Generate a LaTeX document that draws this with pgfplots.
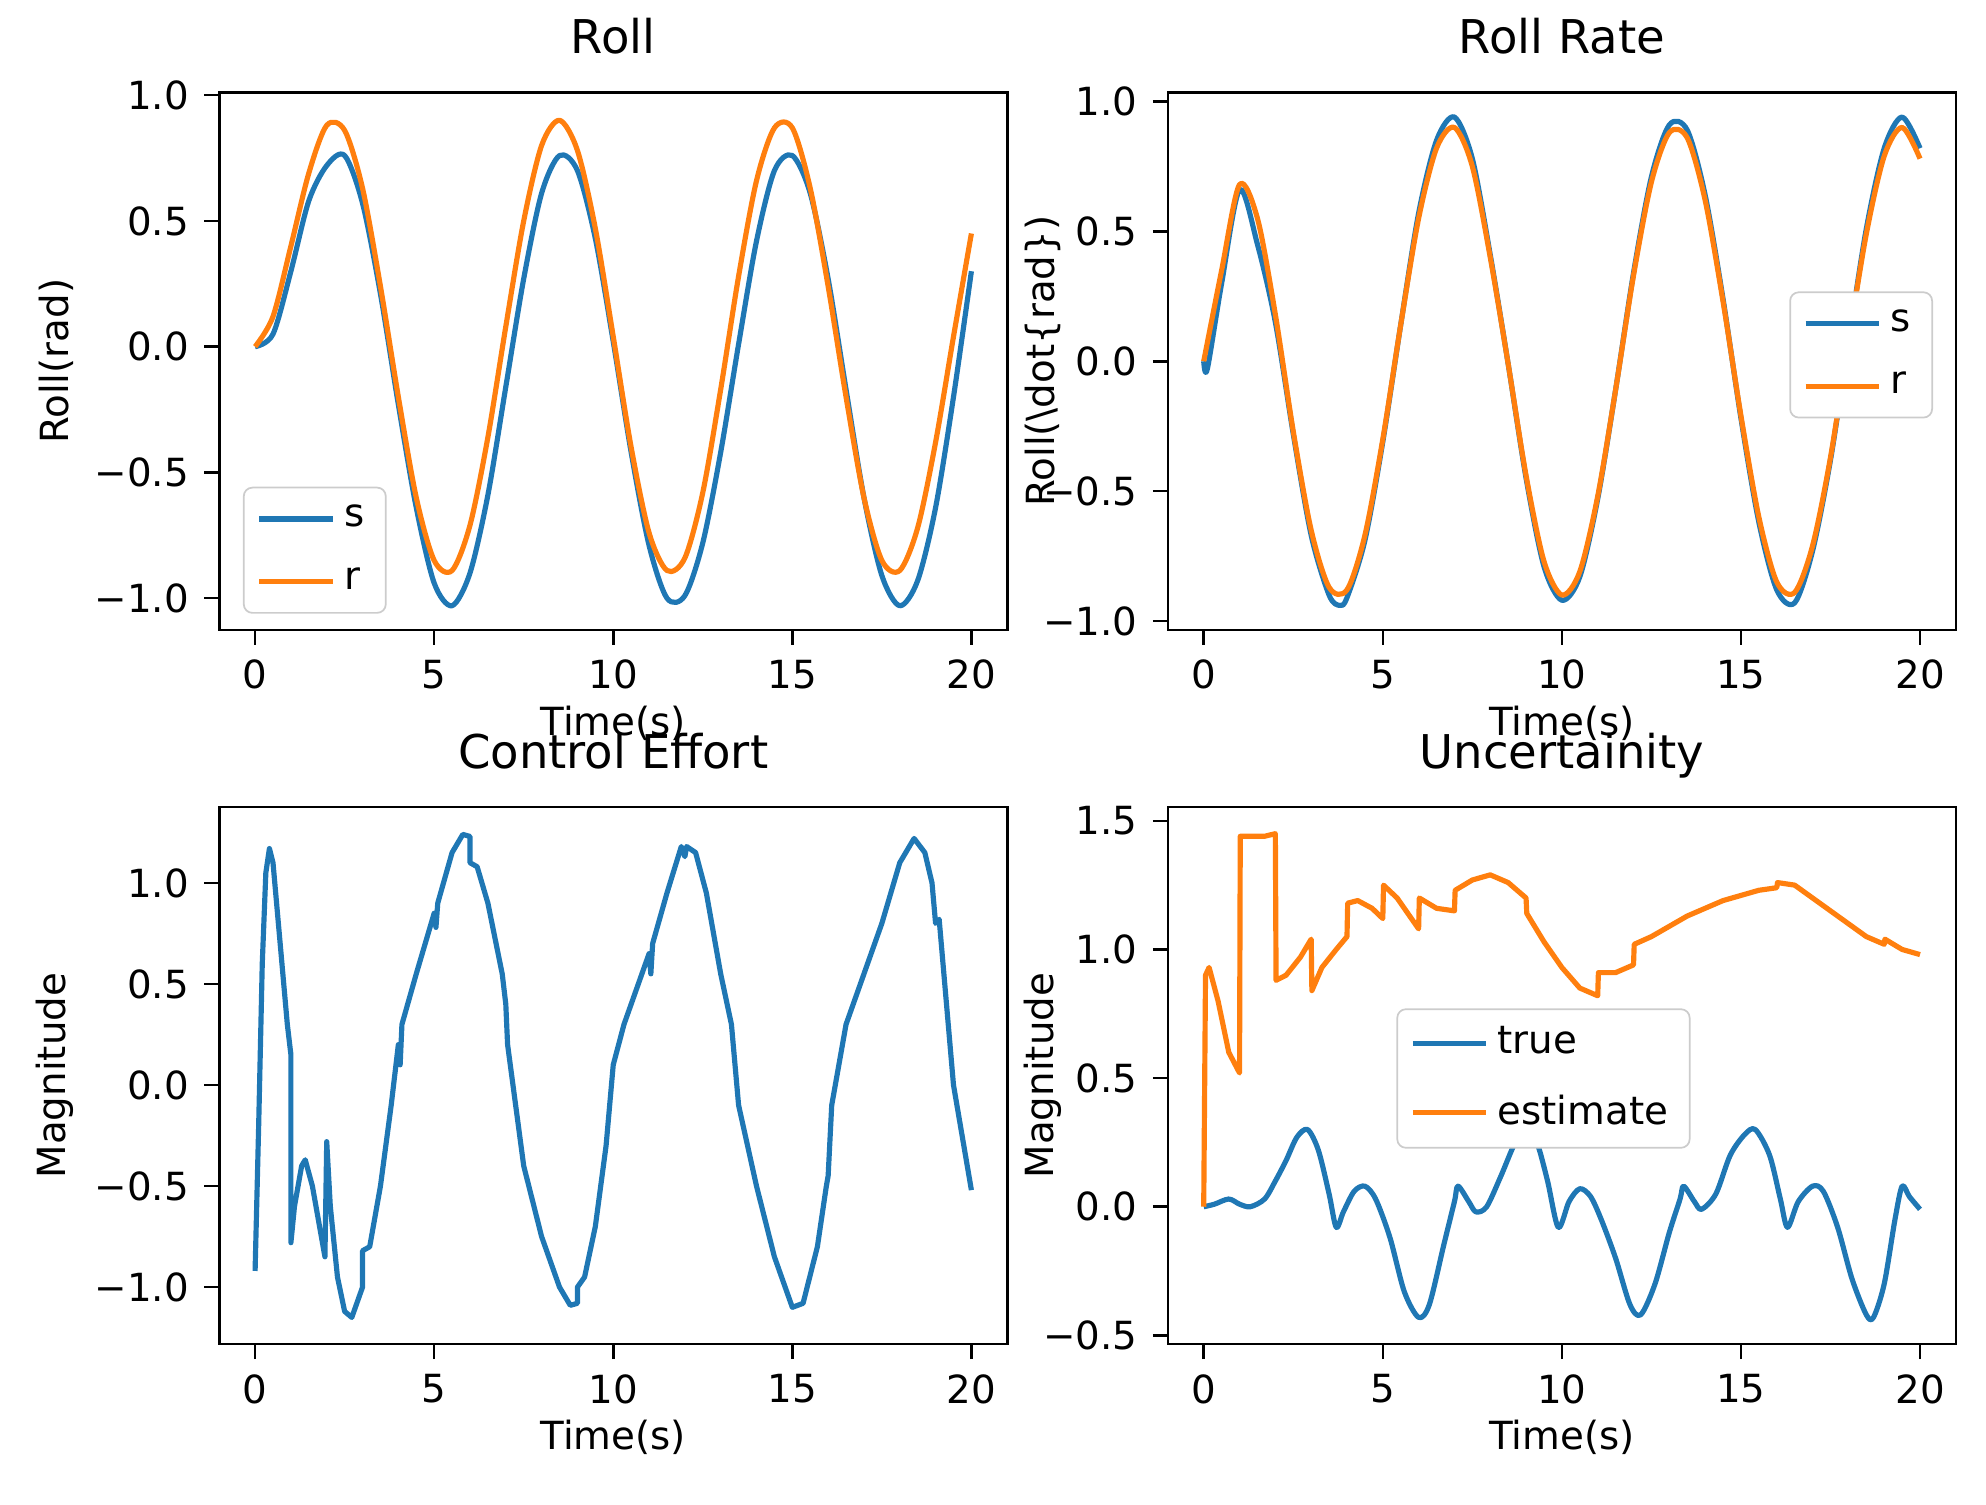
\documentclass[border=0pt]{standalone}
\usepackage{pgfplots}
\pgfplotsset{compat=1.18}
\usepackage{fontspec}
\setmainfont{DejaVu Sans}
\definecolor{c0}{HTML}{1F77B4}
\definecolor{c1}{HTML}{FF7F0E}
\pgfplotsset{
  myax/.style={scale only axis, width=182.9pt, height=124.7pt, anchor=north west,
    xmin=-1, xmax=21, xtick={0,5,10,15,20}, tick align=outside, major tick length=3.5pt,
    xtick pos=bottom, ytick pos=left, axis line style={line width=0.6pt}, tick style={line width=0.6pt, black},
    font=\fontsize{9}{11}\selectfont, title style={font=\fontsize{10.8}{13}\selectfont, text height=0.75em, text depth=0.25em, yshift=-3pt},
    xlabel={Time(s)}, xlabel style={yshift=3pt}, ylabel style={yshift=-2pt},
    legend cell align=left, legend style={draw=black!20, rounded corners=2pt, font=\fontsize{9}{11}\selectfont, row sep=4pt},
    every axis plot/.append style={line width=1.2pt, line join=round},
    /pgf/number format/assume math mode=true}}
\begin{document}
\begin{tikzpicture}
\path (0,0) rectangle (461pt,-349.3pt);
% Roll
\begin{axis}[myax, at={(50.9pt,-21.5pt)}, title={Roll}, ymin=-1.126, ymax=1.01,
  ytick={-1,-0.5,0,0.5,1}, yticklabels={−1.0,−0.5,0.0,0.5,1.0}, ylabel={Roll(rad)},
  legend style={at={(0.03,0.03)}, anchor=south west}]
\addplot[c0, smooth] coordinates {(0,0)(0.5,0.05)(1,0.3)(1.5,0.58)(2,0.72)(2.5,0.76)(3,0.57)(3.5,0.21)(4,-0.23)(4.5,-0.64)(5,-0.94)(5.5,-1.03)(6,-0.9)(6.5,-0.59)(7,-0.16)(7.5,0.27)(8,0.61)(8.5,0.76)(9,0.7)(9.5,0.43)(10,0.02)(10.5,-0.42)(11,-0.79)(11.5,-1.0)(12,-0.99)(12.5,-0.78)(13,-0.42)(13.5,0.01)(14,0.42)(14.5,0.7)(15,0.76)(15.5,0.61)(16,0.27)(16.5,-0.17)(17,-0.6)(17.5,-0.91)(18,-1.03)(18.5,-0.93)(19,-0.64)(19.5,-0.2)(20,0.3)};
\addplot[c1, smooth] coordinates {(0,0)(0.5,0.12)(1,0.4)(1.5,0.69)(2,0.88)(2.5,0.86)(3,0.63)(3.5,0.24)(4,-0.2)(4.5,-0.6)(5,-0.85)(5.5,-0.89)(6,-0.71)(6.5,-0.36)(7,0.08)(7.5,0.5)(8,0.8)(8.5,0.9)(9,0.78)(9.5,0.47)(10,0.04)(10.5,-0.4)(11,-0.74)(11.5,-0.89)(12,-0.84)(12.5,-0.58)(13,-0.17)(13.5,0.28)(14,0.66)(14.5,0.87)(15,0.87)(15.5,0.63)(16,0.24)(16.5,-0.2)(17,-0.6)(17.5,-0.85)(18,-0.89)(18.5,-0.72)(19,-0.38)(19.5,0.04)(20,0.45)};
\legend{s,r}
\end{axis}
% Roll rate
\begin{axis}[myax, at={(271.1pt,-21.5pt)}, title={Roll Rate}, ymin=-1.034, ymax=1.034,
  ytick={-1,-0.5,0,0.5,1}, yticklabels={−1.0,−0.5,0.0,0.5,1.0}, ylabel={Roll(\textbackslash dot\{rad\})},
  ylabel style={yshift=-9pt},
  legend style={at={(0.971,0.63)}, anchor=north east}]
\addplot[c0, smooth] coordinates {(0,0)(0.1,-0.03)(0.5,0.3)(1,0.66)(1.5,0.45)(2,0.15)(2.5,-0.28)(3,-0.67)(3.5,-0.9)(3.8,-0.94)(4,-0.91)(4.5,-0.69)(5,-0.31)(5.5,0.14)(6,0.57)(6.5,0.85)(7,0.94)(7.5,0.78)(8,0.41)(8.5,-0.01)(9,-0.45)(9.5,-0.79)(10,-0.92)(10.5,-0.83)(11,-0.53)(11.5,-0.11)(12,0.34)(12.5,0.71)(13,0.91)(13.5,0.89)(14,0.64)(14.5,0.24)(15,-0.22)(15.5,-0.62)(16,-0.88)(16.5,-0.93)(17,-0.73)(17.5,-0.38)(18,0.07)(18.5,0.51)(19,0.82)(19.5,0.94)(20,0.82)};
\addplot[c1, smooth] coordinates {(0,0)(0.5,0.35)(1,0.68)(1.5,0.55)(2,0.18)(2.5,-0.27)(3,-0.65)(3.5,-0.87)(4,-0.88)(4.5,-0.67)(5,-0.3)(5.5,0.14)(6,0.55)(6.5,0.82)(7,0.9)(7.5,0.75)(8,0.4)(8.5,-0.01)(9,-0.44)(9.5,-0.77)(10,-0.9)(10.5,-0.81)(11,-0.52)(11.5,-0.11)(12,0.33)(12.5,0.69)(13,0.88)(13.5,0.86)(14,0.62)(14.5,0.23)(15,-0.21)(15.5,-0.6)(16,-0.85)(16.5,-0.89)(17,-0.71)(17.5,-0.37)(18,0.07)(18.5,0.49)(19,0.79)(19.5,0.9)(20,0.78)};
\legend{s,r}
\end{axis}
% Control effort
\begin{axis}[myax, at={(50.9pt,-187.3pt)}, title={Control Effort}, ymin=-1.282, ymax=1.376,
  ytick={-1,-0.5,0,0.5,1}, yticklabels={−1.0,−0.5,0.0,0.5,1.0}, ylabel={Magnitude}]
\addplot[c0] coordinates {(0,-0.92)(0.1,-0.2)(0.2,0.6)(0.3,1.05)(0.4,1.17)(0.5,1.1)(0.7,0.7)(0.9,0.3)(1.0,0.15)(1.0,-0.78)(1.1,-0.6)(1.3,-0.4)(1.4,-0.37)(1.6,-0.5)(1.8,-0.7)(1.95,-0.85)(2.0,-0.28)(2.1,-0.6)(2.3,-0.95)(2.5,-1.12)(2.7,-1.15)(2.9,-1.05)(3.0,-1.0)(3.0,-0.82)(3.2,-0.8)(3.5,-0.5)(3.8,-0.1)(4.0,0.2)(4.05,0.1)(4.1,0.3)(4.5,0.55)(5.0,0.85)(5.05,0.78)(5.1,0.9)(5.5,1.15)(5.8,1.24)(6.0,1.23)(6.0,1.1)(6.2,1.08)(6.5,0.9)(6.9,0.55)(7.0,0.4)(7.05,0.2)(7.2,0.0)(7.5,-0.4)(8.0,-0.75)(8.5,-1.0)(8.8,-1.09)(9.0,-1.08)(9.0,-1.0)(9.2,-0.95)(9.5,-0.7)(9.8,-0.3)(10.0,0.1)(10.3,0.3)(10.8,0.55)(11.0,0.65)(11.05,0.55)(11.1,0.7)(11.5,0.95)(11.9,1.18)(12.0,1.13)(12.05,1.18)(12.3,1.15)(12.6,0.95)(13.0,0.55)(13.3,0.3)(13.5,-0.1)(14.0,-0.5)(14.5,-0.85)(15.0,-1.1)(15.3,-1.08)(15.7,-0.8)(15.95,-0.5)(16.0,-0.45)(16.1,-0.1)(16.5,0.3)(17.0,0.55)(17.5,0.8)(18.0,1.1)(18.4,1.22)(18.7,1.15)(18.9,1.0)(19.0,0.8)(19.1,0.82)(19.5,0.0)(20,-0.52)};
\end{axis}
% Uncertainty
\begin{axis}[myax, at={(271.1pt,-187.3pt)}, title={Uncertainity}, ymin=-0.534, ymax=1.554,
  ytick={-0.5,0,0.5,1,1.5}, yticklabels={−0.5,0.0,0.5,1.0,1.5}, ylabel={Magnitude},
  ylabel style={yshift=-9pt},
  legend style={at={(0.29,0.625)}, anchor=north west}]
\addplot[c0, smooth, tension=0.5] coordinates {(0,0)(0.3,0.01)(0.7,0.03)(1.0,0.01)(1.3,0.0)(1.7,0.03)(2.0,0.1)(2.3,0.18)(2.6,0.27)(2.9,0.3)(3.2,0.22)(3.5,0.05)(3.7,-0.08)(3.9,-0.02)(4.2,0.06)(4.5,0.08)(4.8,0.03)(5.2,-0.12)(5.6,-0.33)(6.0,-0.43)(6.3,-0.38)(6.7,-0.15)(7.0,0.02)(7.1,0.08)(7.4,0.02)(7.6,-0.02)(7.9,0.0)(8.3,0.12)(8.7,0.25)(9.0,0.29)(9.3,0.25)(9.6,0.1)(9.9,-0.08)(10.2,0.02)(10.5,0.07)(10.8,0.04)(11.1,-0.05)(11.5,-0.2)(11.9,-0.38)(12.2,-0.42)(12.6,-0.3)(13.0,-0.1)(13.3,0.03)(13.4,0.08)(13.7,0.02)(13.9,-0.01)(14.3,0.05)(14.7,0.2)(15.1,0.28)(15.4,0.3)(15.8,0.2)(16.1,0.03)(16.3,-0.08)(16.6,0.02)(17.0,0.08)(17.3,0.06)(17.7,-0.08)(18.1,-0.28)(18.5,-0.42)(18.7,-0.43)(19.0,-0.3)(19.3,-0.05)(19.5,0.08)(19.7,0.04)(20,-0.01)};
\addplot[c1] coordinates {(0,0)(0.05,0.9)(0.15,0.93)(0.4,0.8)(0.7,0.6)(1.0,0.52)(1.02,1.44)(1.3,1.44)(1.7,1.44)(2.0,1.45)(2.02,0.88)(2.3,0.9)(2.7,0.97)(3.0,1.04)(3.02,0.84)(3.3,0.93)(3.7,1.0)(4.0,1.05)(4.02,1.18)(4.3,1.19)(4.7,1.16)(5.0,1.12)(5.02,1.25)(5.4,1.2)(5.8,1.12)(6.0,1.08)(6.02,1.2)(6.5,1.16)(7.0,1.15)(7.02,1.23)(7.5,1.27)(8.0,1.29)(8.5,1.26)(9.0,1.2)(9.02,1.14)(9.5,1.03)(10.0,0.93)(10.5,0.85)(11.0,0.82)(11.02,0.91)(11.5,0.91)(12.0,0.94)(12.02,1.02)(12.5,1.05)(13.0,1.09)(13.5,1.13)(14.0,1.16)(14.5,1.19)(15.0,1.21)(15.5,1.23)(16.0,1.24)(16.02,1.26)(16.5,1.25)(17.0,1.2)(17.5,1.15)(18.0,1.1)(18.5,1.05)(19.0,1.02)(19.02,1.04)(19.5,1.0)(20,0.98)};
\legend{true,estimate}
\end{axis}
\end{tikzpicture}
\end{document}
